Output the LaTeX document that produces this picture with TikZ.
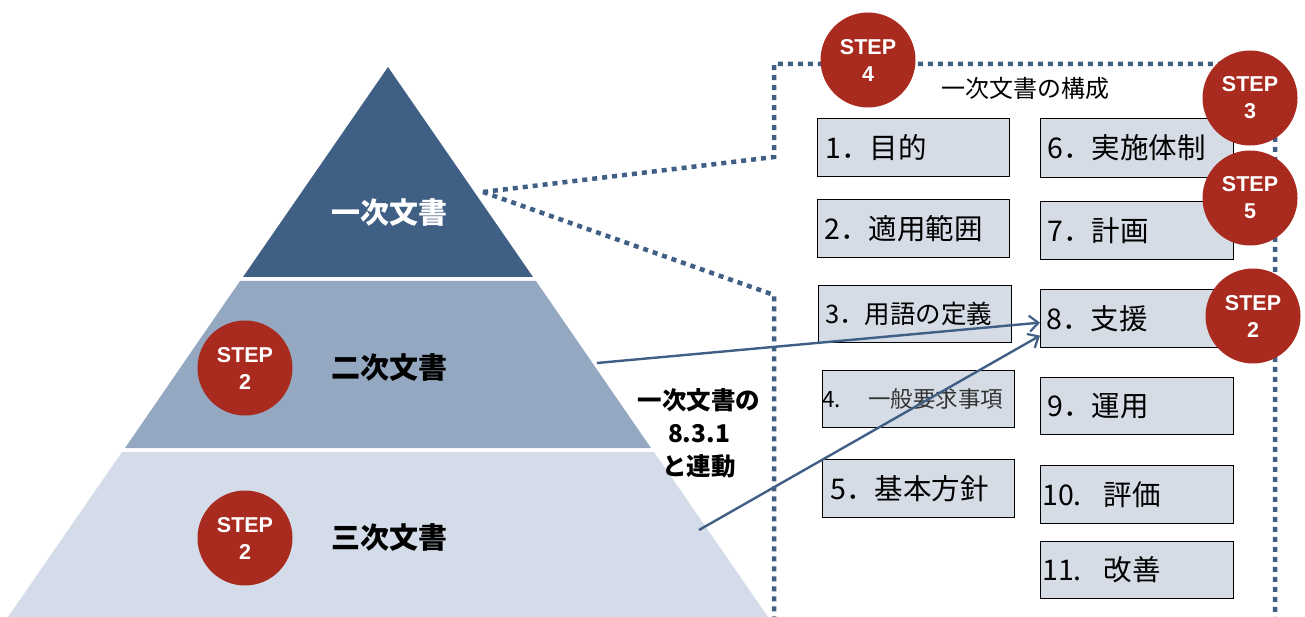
\documentclass[tikz,border=0pt]{standalone}
\usepackage{fontspec}
\newfontfamily\jp{Noto Sans CJK JP}
\newfontfamily\stepfont{Liberation Sans}
\usetikzlibrary{arrows.meta}
\definecolor{navy}{HTML}{3F5F84}
\definecolor{midblue}{HTML}{95A8C1}
\definecolor{lightblue}{HTML}{D3DCE8}
\definecolor{boxfill}{HTML}{D5DCE6}
\definecolor{stepred}{HTML}{A92A1F}
\begin{document}
\begin{tikzpicture}[x=1pt,y=-1pt,
  stepcircle/.style={circle, fill=stepred, minimum size=95pt, inner sep=0pt, text=white,
    font=\stepfont\bfseries\fontsize{21.5}{27}\selectfont, align=center},
  itembox/.style={draw=black, line width=1.3pt, fill=boxfill, anchor=north west, inner sep=0pt},
  itemtext/.style={anchor=west, inner sep=0pt, text=black},
  tierlabel/.style={font=\jp\bfseries\fontsize{29}{29}\selectfont, inner sep=0pt},
  framedots/.style={draw=navy, line width=4.5pt, dash pattern=on 5pt off 5pt},
  link/.style={draw=navy, line width=2.4pt, -{Straight Barb[length=9pt,width=16pt,line width=2.2pt]}}]
\useasboundingbox (0,0) rectangle (1305,617);

% pyramid
\fill[navy] (388,67) -- (533,277) -- (243,277) -- cycle;
\fill[midblue] (240,281) -- (536,281) -- (651,448) -- (125,448) -- cycle;
\fill[lightblue] (122,452) -- (654,452) -- (768,617) -- (8,617) -- cycle;

\node[tierlabel, text=white] (t1) at (389,212) {一次文書};
\node[tierlabel] (t2) at (389,367) {二次文書};
\node[tierlabel] (t3) at (389,537) {三次文書};

% dotted frame
\coordinate (tip) at (483,192);
\coordinate (fa) at (774,157);
\coordinate (fb) at (774,64);
\coordinate (fc) at (1275,64);
\coordinate (fd) at (1275,620);
\coordinate (fe) at (774,295);
\coordinate (ff) at (774,620);
\draw[framedots] (tip) -- (fa) -- (fb) -- (fc) -- (fd);
\draw[framedots] (tip) -- (fe) -- (ff);

\node[font=\jp\fontsize{24}{24}\selectfont, inner sep=0pt] (title) at (1025,88) {一次文書の構成};

% boxes
\node[itembox, minimum width=192pt, minimum height=58pt] (b1) at (817,118) {};
\node[itembox, minimum width=192pt, minimum height=58pt] (b2) at (817,199) {};
\node[itembox, minimum width=193pt, minimum height=57pt] (b3) at (818,285) {};
\node[itembox, minimum width=192pt, minimum height=57pt] (b4) at (822,370) {};
\node[itembox, minimum width=192pt, minimum height=58pt] (b5) at (822,459) {};
\node[itembox, minimum width=193pt, minimum height=59pt] (b6) at (1040,118) {};
\node[itembox, minimum width=193pt, minimum height=58pt] (b7) at (1040,201) {};
\node[itembox, minimum width=193pt, minimum height=58pt] (b8) at (1040,289) {};
\node[itembox, minimum width=193pt, minimum height=57pt] (b9) at (1040,377) {};
\node[itembox, minimum width=193pt, minimum height=58pt] (b10) at (1040,465) {};
\node[itembox, minimum width=193pt, minimum height=57pt] (b11) at (1040,541) {};

\node[itemtext, font=\jp\fontsize{28.5}{28.5}\selectfont] (b1t) at ([xshift=8pt]b1.west) {1．目的};
\node[itemtext, font=\jp\fontsize{28.5}{28.5}\selectfont] (b2t) at ([xshift=7pt]b2.west) {2．適用範囲};
\node[itemtext, font=\jp\fontsize{25.5}{25.5}\selectfont] (b3t) at ([xshift=7pt]b3.west) {3．用語の定義};
\node[itemtext, font=\jp\fontsize{22.5}{22.5}\selectfont] (b4t) at ([xshift=0pt]b4.west) {4.\hspace{5pt}\textcolor{black!80}{　一般要求事項}};
\node[itemtext, font=\jp\fontsize{28.5}{28.5}\selectfont] (b5t) at ([xshift=8pt]b5.west) {5．基本方針};
\node[itemtext, font=\jp\fontsize{28.5}{28.5}\selectfont] (b6t) at ([xshift=7pt]b6.west) {6．実施体制};
\node[itemtext, font=\jp\fontsize{28.5}{28.5}\selectfont] (b7t) at ([xshift=7pt]b7.west) {7．計画};
\node[itemtext, font=\jp\fontsize{28.5}{28.5}\selectfont] (b8t) at ([xshift=6pt]b8.west) {8．支援};
\node[itemtext, font=\jp\fontsize{28.5}{28.5}\selectfont] (b9t) at ([xshift=7pt]b9.west) {9．運用};
\node[itemtext, font=\jp\fontsize{28.5}{28.5}\selectfont] (b10t) at ([xshift=2pt]b10.west) {10.\hspace{22pt}評価};
\node[itemtext, font=\jp\fontsize{28.5}{28.5}\selectfont] (b11t) at ([xshift=2pt]b11.west) {11.\hspace{22pt}改善};

% linkage note
\node[font=\jp\bfseries\fontsize{24.5}{33}\selectfont, align=center, inner sep=0pt] (note) at (699,433) {一次文書の\\8.3.1\\と連動};

% arrows
\coordinate (a1s) at (597,363);
\coordinate (a2s) at (699,530);
\draw[link] (a1s) -- ([yshift=-4pt]b8.west);
\draw[link] (a2s) -- ([yshift=-17pt]b8.west);

% step circles
\node[stepcircle] (s4) at (868,60) {STEP\\4};
\node[stepcircle] (s3) at (1250,98) {STEP\\3};
\node[stepcircle] (s5) at (1250,198) {STEP\\5};
\node[stepcircle] (s2r) at (1253,316) {STEP\\2};
\node[stepcircle] (s2a) at (245,368) {STEP\\2};
\node[stepcircle] (s2b) at (245,538) {STEP\\2};
\end{tikzpicture}
\end{document}
